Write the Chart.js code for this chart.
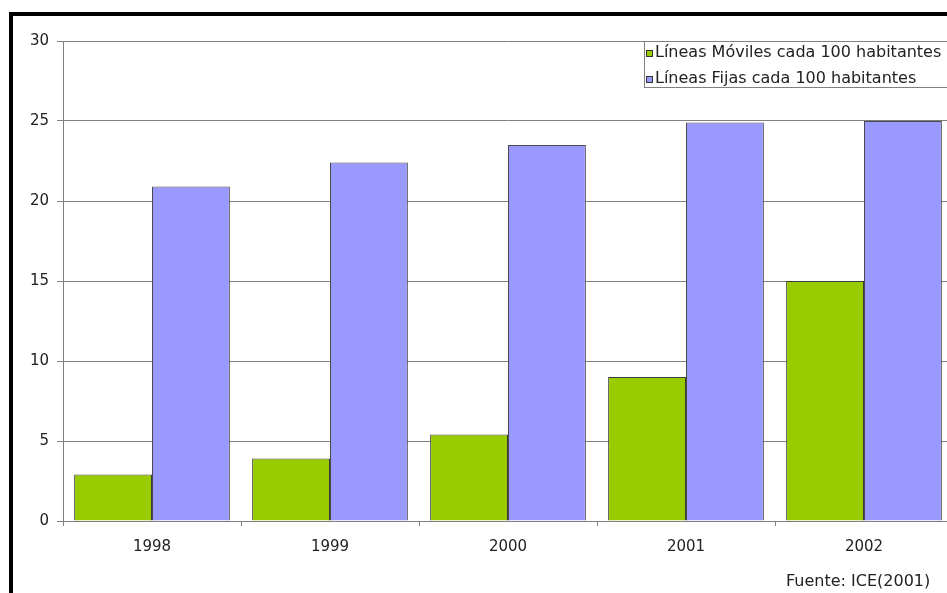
<!DOCTYPE html>
<html>
<head>
<meta charset="utf-8">
<script src="https://cdn.jsdelivr.net/npm/chart.js@4.4.1/dist/chart.umd.min.js"></script>
<style>
html, body { margin: 0; padding: 0; background: #fff; overflow: hidden; width: 947px; height: 593px; }
#wrap { position: relative; width: 947px; height: 593px; overflow: hidden; }
#chart { position: absolute; left: 0; top: 0; }
#frame { position: absolute; left: 9px; top: 12px; width: 1000px; height: 700px; border-left: 4px solid #000; border-top: 4px solid #000; }
#fuente { position: absolute; left: 786px; top: 571px; font: 16px "DejaVu Sans"; color: #222; white-space: nowrap; }
</style>
</head>
<body>
<div id="wrap">
  <canvas id="chart" width="960" height="593"></canvas>
  <div id="frame"></div>
  <div id="fuente">Fuente: ICE(2001)</div>
</div>
<script>
var years = ['1998', '1999', '2000', '2001', '2002'];
var moviles = [2.9, 3.9, 5.4, 9.0, 15.0];
var fijas = [20.9, 22.4, 23.5, 24.9, 25.0];
var seriesNames = ['Líneas Móviles cada 100 habitantes', 'Líneas Fijas cada 100 habitantes'];
var yMax = 30, yStep = 5;

var FONT = '"DejaVu Sans", sans-serif';

// legend drawn inside the plot, boxed like the original
var boxLegend = {
    id: 'boxLegend',
    afterDraw: function (chart) {
        var ctx = chart.ctx;
        var x = 644, y = 41, w = 330, h = 46;
        ctx.save();
        ctx.fillStyle = '#fff';
        ctx.fillRect(x, y, w, h);
        ctx.strokeStyle = '#808080';
        ctx.lineWidth = 1;
        ctx.strokeRect(x + 0.5, y + 0.5, w, h);
        ctx.font = '16px ' + FONT;
        ctx.textBaseline = 'middle';
        chart.data.datasets.forEach(function (ds, i) {
            var cy = y + 12 + i * 26;
            ctx.fillStyle = ds.backgroundColor;
            ctx.fillRect(x + 2, cy - 3, 7, 7);
            ctx.strokeStyle = '#333';
            ctx.strokeRect(x + 2.5, cy - 2.5, 6, 6);
            ctx.fillStyle = '#222';
            ctx.fillText(ds.label, x + 11, cy);
        });
        ctx.restore();
    }
};

new Chart(document.getElementById('chart'), {
    type: 'bar',
    data: {
        labels: years,
        datasets: [{
            label: seriesNames[0],
            data: moviles,
            backgroundColor: '#99CC00',
            borderColor: '#3a3a3a',
            borderWidth: 1,
            categoryPercentage: 0.875,
            barPercentage: 1
        }, {
            label: seriesNames[1],
            data: fijas,
            backgroundColor: '#9999FF',
            borderColor: '#4a4a4a',
            borderWidth: 1,
            categoryPercentage: 0.875,
            barPercentage: 1
        }]
    },
    options: {
        responsive: false,
        animation: false,
        devicePixelRatio: 1,
        layout: { padding: { top: 41, right: 7, left: 0, bottom: 0 } },
        plugins: {
            legend: { display: false },
            tooltip: { enabled: false }
        },
        scales: {
            y: {
                min: 0,
                max: yMax,
                ticks: { stepSize: yStep, color: '#222', font: { family: FONT, size: 15 }, padding: 8 },
                grid: { color: '#808080', tickLength: 6 },
                border: { color: '#808080' },
                afterFit: function (s) { s.width = 63; }
            },
            x: {
                ticks: { color: '#222', font: { family: FONT, size: 15 }, padding: 12, maxRotation: 0 },
                grid: { drawOnChartArea: false, color: '#808080', tickLength: 5, offset: true },
                border: { color: '#808080' },
                afterFit: function (s) { s.height = 72; }
            }
        }
    },
    plugins: [boxLegend]
});
</script>
</body>
</html>
